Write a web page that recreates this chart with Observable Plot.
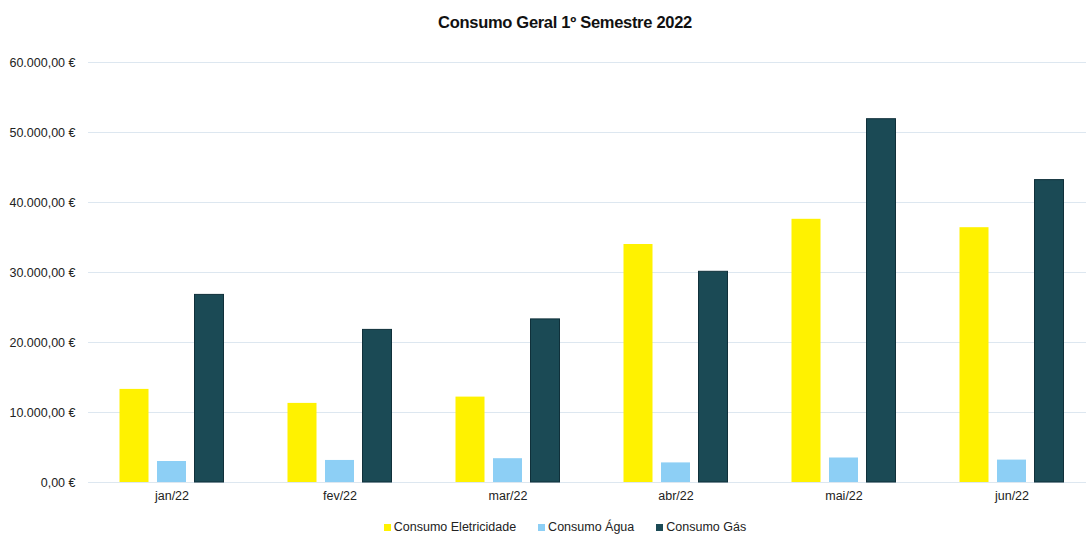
<!DOCTYPE html>
<html>
<head>
<meta charset="utf-8">
<script src="https://cdn.jsdelivr.net/npm/d3@7"></script>
<script src="https://cdn.jsdelivr.net/npm/@observablehq/plot@0.6"></script>
<style>
  body { margin: 0; background: #fff; font-family: "Liberation Sans Narrow", "Arial Narrow", "Liberation Sans", Arial, sans-serif; }
  #wrap { position: relative; width: 1086px; height: 536px; overflow: hidden; }
  #title { position: absolute; top: 13px; left: 0; width: 1086px; padding-left: 44px; box-sizing: border-box; text-align: center; font-weight: bold; font-size: 16.5px; color: #111; letter-spacing: -0.3px; }
  #chart { position: absolute; top: 40px; left: 0; }
  #legend { position: absolute; top: 520px; left: 0; width: 1086px; padding-left: 44px; box-sizing: border-box; display: flex; justify-content: center; gap: 22px; font-size: 12.5px; color: #222; }
  .item { display: flex; align-items: center; gap: 3px; }
  .sw { width: 7px; height: 7px; display: inline-block; }
</style>
</head>
<body>
<div id="wrap">
  <div id="title">Consumo Geral 1º Semestre 2022</div>
  <div id="chart"></div>
  <div id="legend"></div>
</div>
<script>
const months = ["jan/22", "fev/22", "mar/22", "abr/22", "mai/22", "jun/22"];
const series = ["Consumo Eletricidade", "Consumo Água", "Consumo Gás"];
const colors = ["#FFF200", "#8DCFF5", "#1B4A55"];
const eletricidade = [13300, 11300, 12200, 34000, 37600, 36400];
const agua = [3000, 3150, 3400, 2800, 3500, 3200];
const gas = [26800, 21800, 23300, 30100, 51900, 43200];
const yTicks = [0, 10000, 20000, 30000, 40000, 50000, 60000];

const locale = d3.formatLocale({decimal: ",", thousands: ".", grouping: [3], currency: ["", " €"]});
const fmt = locale.format("$,.2f");

const values = [eletricidade, agua, gas];
const tables = values.map((arr, i) => months.map((m, j) => ({month: m, value: arr[j], series: series[i]})));
const offsets = [-37.5, 0, 37.5];

const chart = Plot.plot({
  width: 1086,
  height: 472,
  marginTop: 22,
  marginLeft: 88,
  marginRight: 0,
  marginBottom: 30,
  style: {fontFamily: '"Liberation Sans Narrow", "Arial Narrow", "Liberation Sans", Arial, sans-serif', fontSize: "12.5px", color: "#222", background: "transparent"},
  x: {domain: months, range: [88, 1096], paddingInner: 0.827, paddingOuter: 0.4135, label: null},
  y: {domain: [0, 60000], label: null},
  marks: [
    Plot.ruleY(yTicks, {stroke: "#dde7f0", strokeWidth: 1.2}),
    ...tables.map((t, i) => Plot.barY(t, {
      x: "month", y: "value", fill: colors[i], dx: offsets[i],
      stroke: i === 2 ? "#10303a" : "none", strokeWidth: i === 2 ? 1 : 0
    })),
    Plot.axisY({ticks: yTicks, tickFormat: fmt, tickSize: 0, tickPadding: 13, fontSize: "12.5px"}),
    Plot.axisX({tickSize: 0, tickPadding: 9, fontSize: "12.5px"})
  ]
});
document.getElementById("chart").appendChild(chart);

const legend = document.getElementById("legend");
series.forEach((s, i) => {
  const it = document.createElement("div");
  it.className = "item";
  it.innerHTML = `<span class="sw" style="background:${colors[i]}"></span><span>${s}</span>`;
  legend.appendChild(it);
});
</script>
</body>
</html>
